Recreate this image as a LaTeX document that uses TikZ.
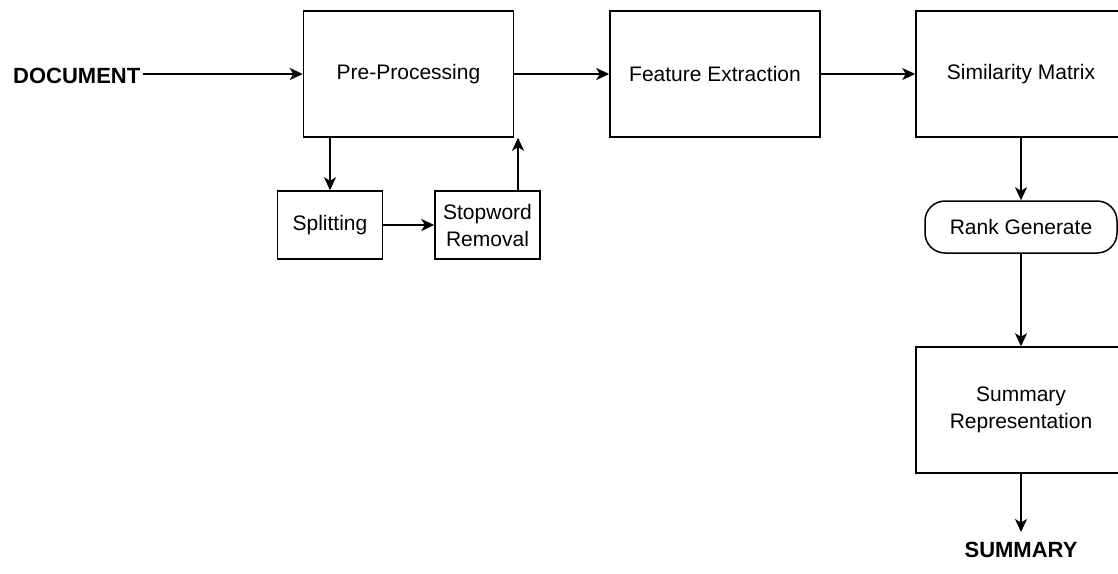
\documentclass[tikz,border=0pt]{standalone}
\usepackage{fontspec}
\setmainfont{Liberation Sans}
\usetikzlibrary{arrows.meta}
\begin{document}
\begin{tikzpicture}[x=1pt,y=-1pt,
  box/.style={draw, line width=1.5pt, minimum width=210pt, minimum height=126pt, inner sep=0pt, align=center, font=\fontsize{21}{27}\selectfont},
  small/.style={draw, line width=1.5pt, minimum width=105pt, minimum height=68pt, inner sep=0pt, align=center, font=\fontsize{21}{27}\selectfont},
  term/.style={draw, line width=1.5pt, rounded corners=20pt, minimum width=192pt, minimum height=52pt, inner sep=0pt, align=center, font=\fontsize{21}{27}\selectfont},
  lbl/.style={inner sep=0pt, font=\fontsize{22}{26}\selectfont\bfseries},
  arr/.style={line width=1.5pt, -{Stealth[length=13pt,width=12pt,inset=3.5pt]}}
]
\useasboundingbox (0,0) rectangle (1118,573);
\clip (0,0) rectangle (1118,573);
\node[lbl, anchor=west] (doc) at (13,76) {DOCUMENT};
\coordinate (docout) at (143,74);
\node[box] (pre) at (408.5,74) {Pre-Processing};
\node[box] (feat) at (715,74) {Feature Extraction};
\node[box] (sim) at (1021,74) {Similarity Matrix};
\node[small] (split) at (330,225) {Splitting};
\node[small] (stop) at (487.5,225) {Stopword\\Removal};
\coordinate (upx) at (518,191);
\node[term] (rank) at (1021,227) {Rank Generate};
\node[box] (rep) at (1021,410) {Summary\\Representation};
\node[lbl] (sum) at (1021,550) {SUMMARY};
\draw[arr] (docout) -- (pre.west);
\draw[arr] (pre.east) -- (feat.west);
\draw[arr] (feat.east) -- (sim.west);
\draw[arr] (pre.south -| split.north) -- (split.north);
\draw[arr] (split.east) -- (stop.west);
\draw[arr] (upx) -- (upx |- pre.south);
\draw[arr] (sim.south) -- (rank.north);
\draw[arr] (rank.south) -- (rep.north);
\draw[arr] (rep.south) -- ([yshift=10pt]sum.north);
\end{tikzpicture}
\end{document}
